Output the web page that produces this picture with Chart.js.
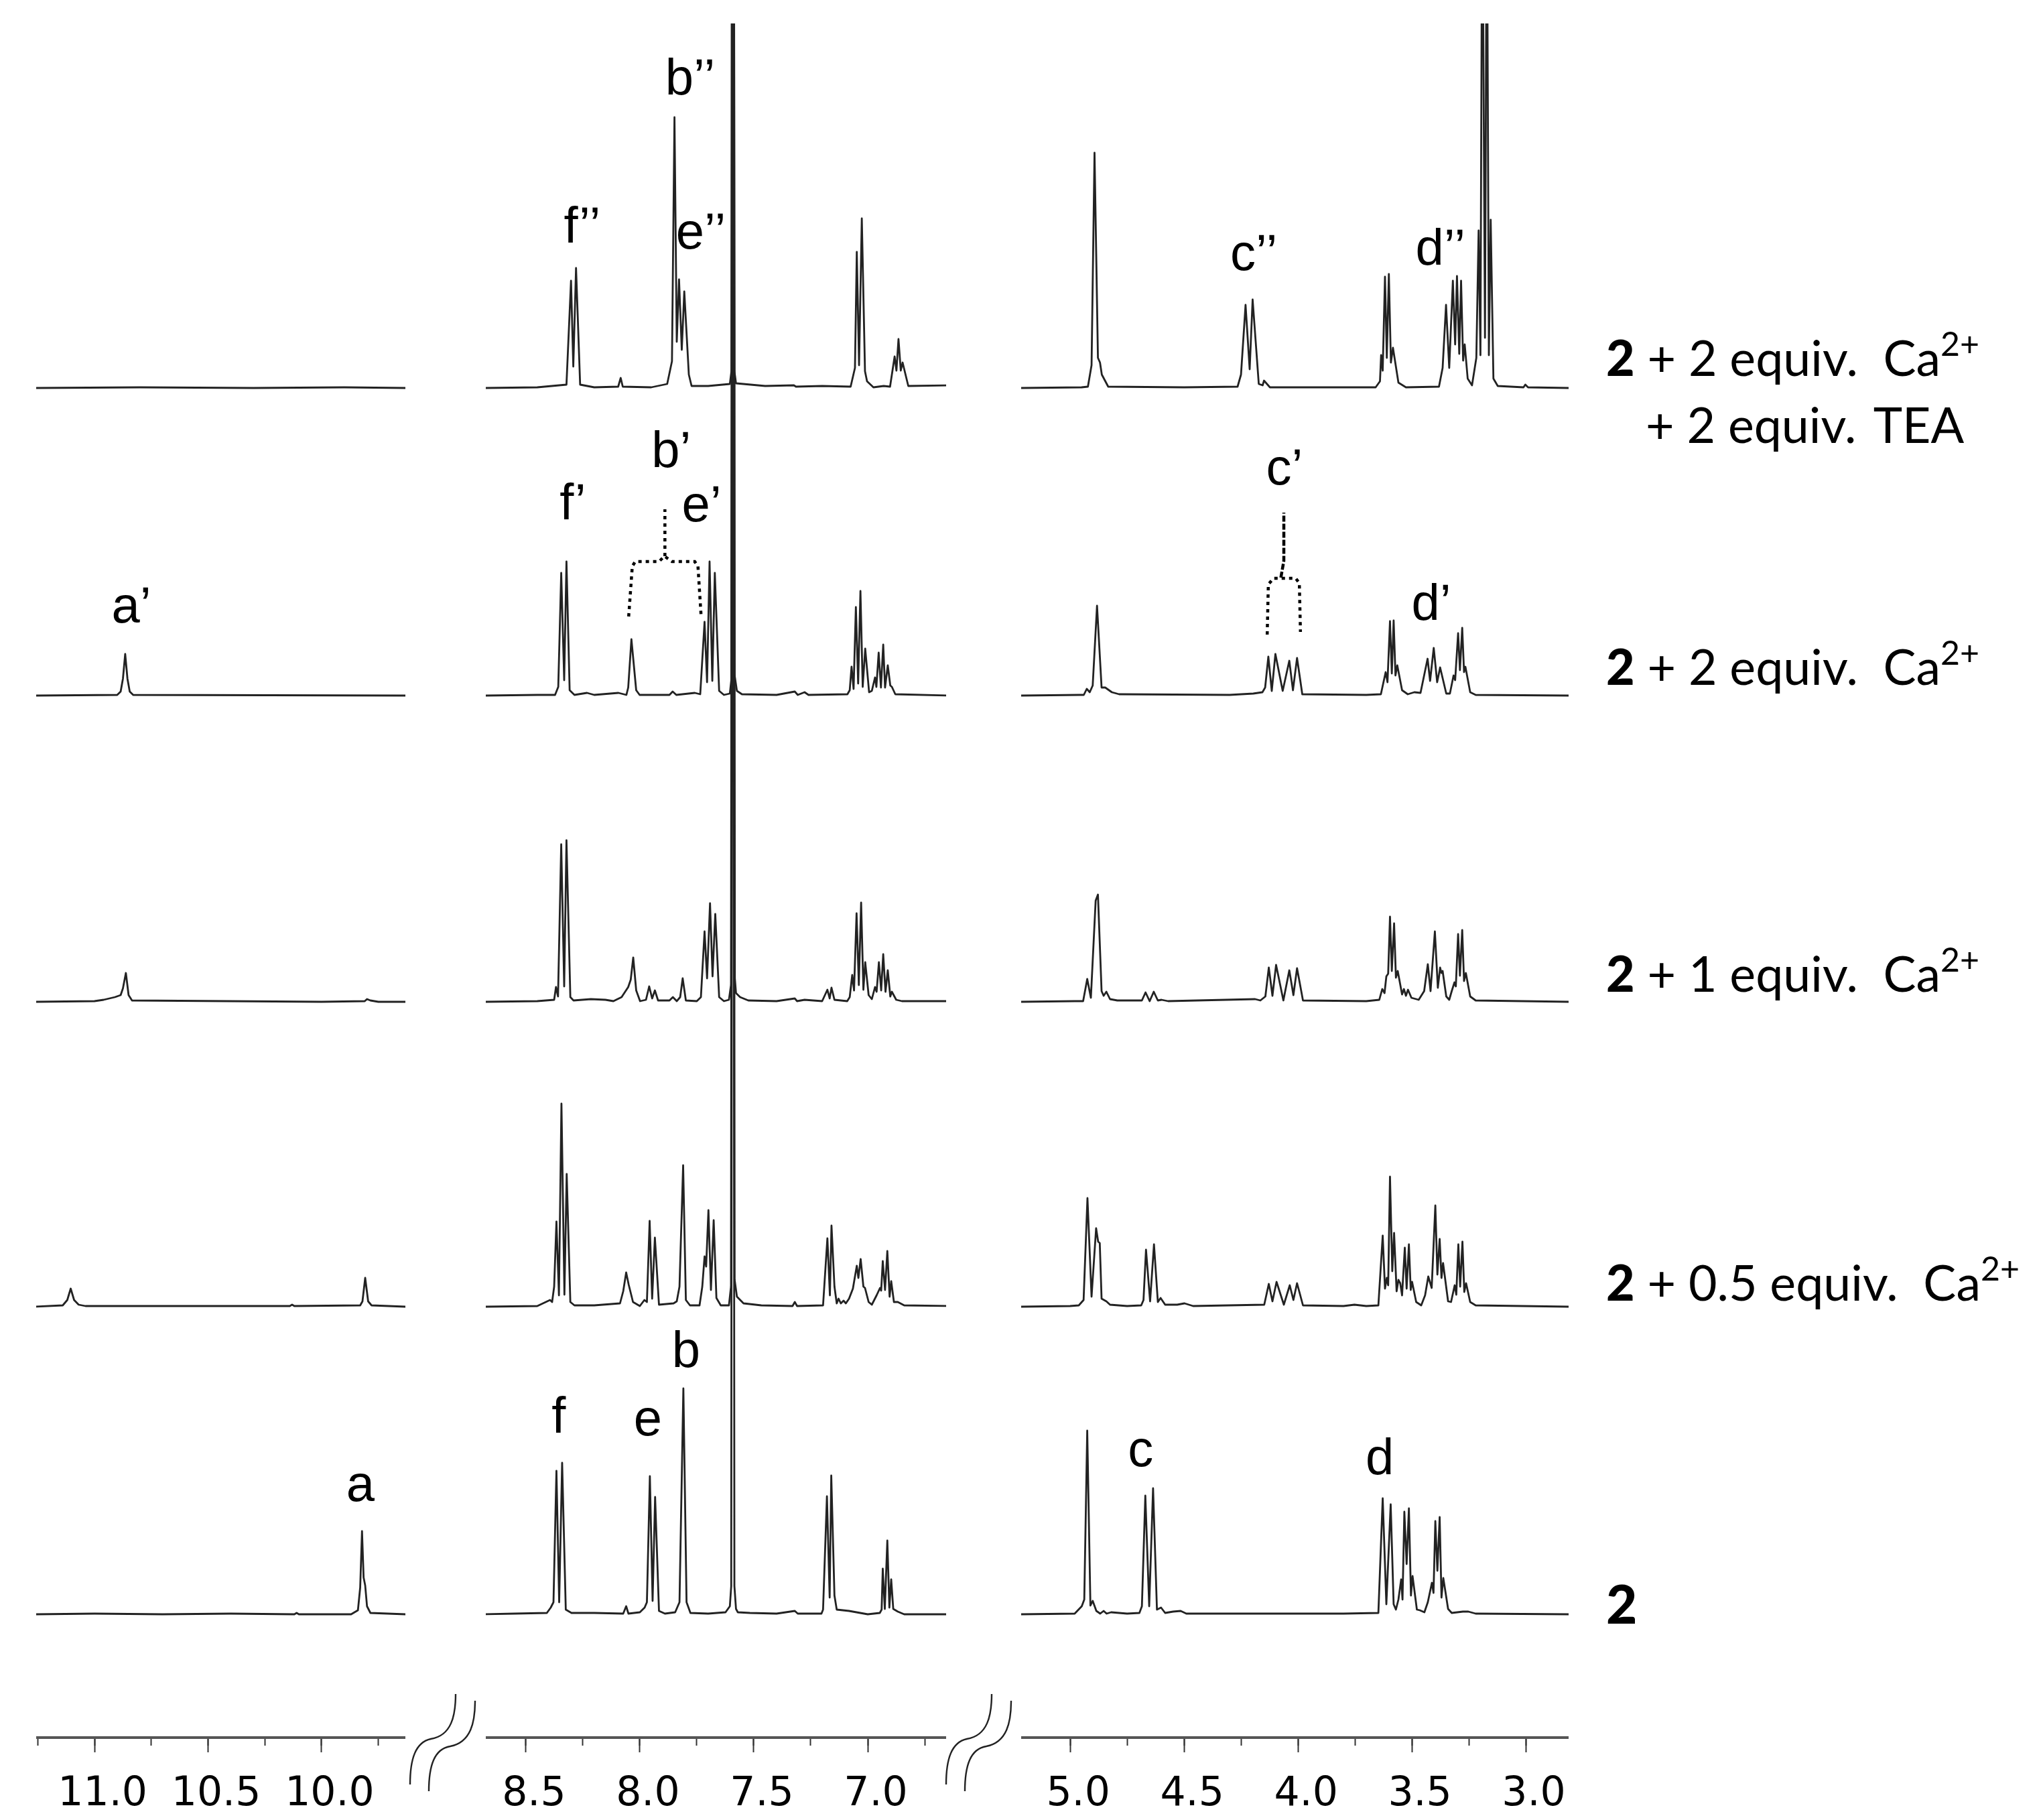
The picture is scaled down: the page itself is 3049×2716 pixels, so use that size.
<!DOCTYPE html>
<html><head><meta charset="utf-8">
<script src="https://cdn.jsdelivr.net/npm/chart.js@4"></script>
<style>
html,body{margin:0;padding:0;background:#fff;width:3049px;height:2716px;overflow:hidden}
canvas{position:absolute;top:0;filter:blur(0.6px)}
svg{position:absolute;left:0;top:0}
.side{font-family:Lato,sans-serif;font-size:73.5px;fill:#000;white-space:pre}
</style></head><body>
<canvas id="p1" width="551" height="2716" style="left:54px"></canvas>
<canvas id="p2" width="687" height="2716" style="left:725px"></canvas>
<canvas id="p3" width="817" height="2716" style="left:1524px"></canvas>
<svg width="3049" height="2716" viewBox="0 0 3049 2716">
<g fill="none" stroke="#222" stroke-width="2.4">
<path d="M680 2528C680 2560 674 2590 643 2595C620 2600 612 2625 612 2663"/>
<path d="M709 2538C709 2570 703 2600 672 2606C648 2610 640 2635 640 2673"/>
<path d="M1480 2528C1480 2560 1474 2590 1443 2595C1420 2600 1412 2625 1412 2663"/>
<path d="M1509 2538C1509 2570 1503 2600 1472 2606C1448 2610 1440 2635 1440 2673"/>
</g>
<text class="side" x="2397" y="561"><tspan font-weight="900">2</tspan> + 2 equiv.  Ca<tspan font-size="50" dy="-30">2+</tspan></text>
<text class="side" x="2456" y="661">+ 2 equiv.  <tspan dx="-10">TEA</tspan></text>
<text class="side" x="2397" y="1022"><tspan font-weight="900">2</tspan> + 2 equiv.  Ca<tspan font-size="50" dy="-30">2+</tspan></text>
<text class="side" x="2397" y="1480"><tspan font-weight="900">2</tspan> + 1 equiv.  Ca<tspan font-size="50" dy="-30">2+</tspan></text>
<text class="side" x="2397" y="1941"><tspan font-weight="900">2</tspan> + 0.5 equiv.  Ca<tspan font-size="50" dy="-30">2+</tspan></text>
<text class="side" x="2397" y="2423" font-weight="900" style="font-size:80px">2</text>
</svg>
<script>
// Vertical position of each spectrum's baseline (bottom to top)
const spectrumBaselines = [184, 643, 1098, 1555, 2014];

// Panel ranges (ppm)
const rangeLow  = [11.257, 9.631];
const rangeMid  = [8.676, 6.656];
const rangeHigh = [5.215, 2.812];

// Downfield panel: [ppm, intensity]
const low0 = [[11.26,0],[11,1],[10.7,0],[10.4,1],[10.12,0],[10.11,2],[10.1,0],[9.87,0],[9.84,6],[9.83,40],[9.822,124],[9.815,55],[9.808,43],[9.80,12],[9.785,2],[9.63,0]];
const low1 = [[11.26,0],[11.14,2],[11.12,10],[11.105,27],[11.09,10],[11.07,3],[11.04,1],[10.5,1],[10.14,1],[10.13,3],[10.12,1],[9.83,2],[9.82,8],[9.808,43],[9.795,8],[9.78,2],[9.63,0]];
const low2 = [[11.26,0],[11.0,1],[10.96,3],[10.91,7],[10.885,10],[10.875,20],[10.862,43],[10.85,10],[10.835,2],[10.0,0],[9.81,1],[9.80,4],[9.785,2],[9.75,0],[9.63,0]];
const low3 = [[11.26,0],[10.9,1],[10.885,6],[10.875,25],[10.865,62],[10.855,25],[10.845,6],[10.83,1],[9.63,0]];
const low4 = [[11.26,0],[10.8,1],[10.3,0],[9.9,1],[9.63,0]];

// Aromatic panel: [ppm, intensity]
const mid0 = [[8.68,0],[8.55,1],[8.408,2],[8.391,10],[8.379,18],[8.366,214],[8.354,18],[8.341,226],[8.325,7],[8.30,2],[8.2,2],[8.073,1],[8.060,12],[8.05,1],[8.0,3],[7.979,10],[7.969,18],[7.956,206],[7.944,20],[7.933,175],[7.916,5],[7.89,1],[7.845,3],[7.826,18],[7.809,337],[7.795,18],[7.778,2],[7.7,1],[7.624,3],[7.605,12],[7.599,42],[7.592,3000],[7.585,42],[7.578,8],[7.570,3],[7.517,2],[7.4,1],[7.320,5],[7.307,1],[7.203,1],[7.196,7],[7.179,176],[7.167,25],[7.160,207],[7.146,28],[7.136,7],[7.082,5],[7.0,0],[6.947,2],[6.939,7],[6.934,68],[6.925,8],[6.914,110],[6.905,10],[6.897,52],[6.888,8],[6.868,4],[6.84,0],[6.65,0]];
const mid1 = [[8.68,0],[8.45,1],[8.394,10],[8.385,7],[8.376,30],[8.366,127],[8.355,17],[8.344,303],[8.331,18],[8.321,198],[8.305,7],[8.287,2],[8.2,2],[8.087,5],[8.073,23],[8.060,51],[8.049,33],[8.030,7],[8.0,1],[7.980,10],[7.969,7],[7.957,128],[7.946,12],[7.934,103],[7.916,3],[7.852,5],[7.838,8],[7.826,30],[7.810,211],[7.798,10],[7.780,2],[7.738,2],[7.726,30],[7.716,75],[7.709,60],[7.699,144],[7.688,25],[7.676,129],[7.664,13],[7.645,2],[7.609,2],[7.600,30],[7.591,3000],[7.584,40],[7.574,15],[7.545,5],[7.467,2],[7.33,1],[7.320,7],[7.31,1],[7.196,2],[7.177,102],[7.166,17],[7.159,121],[7.146,30],[7.136,5],[7.128,12],[7.118,5],[7.106,9],[7.096,5],[7.082,12],[7.065,27],[7.048,61],[7.041,43],[7.031,71],[7.019,30],[7.012,28],[6.996,7],[6.982,3],[6.961,17],[6.946,28],[6.941,24],[6.934,68],[6.924,25],[6.914,83],[6.904,15],[6.897,38],[6.885,7],[6.868,7],[6.84,2],[6.65,1]];
const mid2 = [[8.68,0],[8.45,1],[8.376,3],[8.368,22],[8.359,8],[8.345,235],[8.332,23],[8.322,241],[8.305,7],[8.291,2],[8.215,4],[8.151,3],[8.116,1],[8.080,7],[8.051,22],[8.040,33],[8.029,66],[8.016,17],[7.999,1],[7.973,3],[7.959,23],[7.946,5],[7.934,17],[7.920,2],[7.87,2],[7.855,7],[7.838,1],[7.823,7],[7.812,35],[7.798,2],[7.75,1],[7.732,7],[7.716,105],[7.705,35],[7.692,147],[7.681,38],[7.669,131],[7.652,7],[7.631,1],[7.609,3],[7.600,25],[7.590,3000],[7.583,35],[7.578,13],[7.560,7],[7.524,2],[7.4,1],[7.320,5],[7.31,1],[7.277,3],[7.2,1],[7.177,18],[7.167,5],[7.159,21],[7.146,3],[7.09,1],[7.079,7],[7.068,40],[7.060,17],[7.049,132],[7.039,25],[7.029,148],[7.019,18],[7.011,59],[6.996,10],[6.982,4],[6.968,22],[6.961,15],[6.951,59],[6.941,17],[6.932,71],[6.922,15],[6.912,47],[6.901,8],[6.894,15],[6.875,3],[6.85,1],[6.65,1]];
const mid3 = [[8.68,0],[8.45,1],[8.372,1],[8.358,13],[8.345,183],[8.332,23],[8.322,200],[8.308,8],[8.287,1],[8.232,4],[8.2,1],[8.094,4],[8.059,1],[8.051,12],[8.037,84],[8.016,8],[8.001,1],[7.87,1],[7.856,6],[7.84,1],[7.759,4],[7.735,2],[7.716,110],[7.705,20],[7.694,200],[7.682,22],[7.671,183],[7.652,7],[7.631,1],[7.605,3],[7.598,25],[7.591,3000],[7.584,30],[7.574,7],[7.552,2],[7.4,1],[7.320,6],[7.307,1],[7.277,5],[7.26,1],[7.089,2],[7.079,8],[7.071,43],[7.062,10],[7.052,132],[7.042,18],[7.032,156],[7.022,13],[7.011,70],[6.994,5],[6.982,7],[6.968,27],[6.962,13],[6.952,64],[6.942,12],[6.932,76],[6.924,12],[6.912,45],[6.901,15],[6.894,13],[6.879,2],[6.65,0]];
const mid4 = [[8.68,0],[8.45,1],[8.322,5],[8.302,160],[8.292,32],[8.280,179],[8.262,5],[8.2,1],[8.095,2],[8.084,15],[8.075,2],[7.95,1],[7.880,6],[7.859,40],[7.848,404],[7.838,69],[7.828,162],[7.816,57],[7.805,144],[7.785,20],[7.773,3],[7.7,3],[7.605,6],[7.598,25],[7.592,3000],[7.585,25],[7.578,7],[7.45,3],[7.324,4],[7.315,2],[7.2,3],[7.075,2],[7.056,30],[7.048,203],[7.038,34],[7.026,253],[7.012,25],[7.003,10],[6.975,1],[6.930,3],[6.902,2],[6.882,47],[6.874,26],[6.865,73],[6.855,26],[6.847,38],[6.822,3],[6.65,4]];

// Aliphatic panel: [ppm, intensity]
const high0 = [[5.22,0],[4.98,1],[4.949,12],[4.938,22],[4.925,274],[4.911,13],[4.901,20],[4.885,5],[4.868,1],[4.853,5],[4.84,1],[4.82,3],[4.75,1],[4.696,2],[4.685,12],[4.670,177],[4.653,12],[4.636,188],[4.619,7],[4.601,10],[4.583,2],[4.548,4],[4.515,5],[4.49,1],[3.8,1],[3.647,2],[3.628,173],[3.612,15],[3.593,164],[3.580,15],[3.570,7],[3.559,22],[3.547,52],[3.541,22],[3.533,153],[3.523,75],[3.513,158],[3.504,28],[3.497,57],[3.478,7],[3.465,6],[3.445,3],[3.430,18],[3.412,47],[3.405,32],[3.397,139],[3.388,65],[3.378,145],[3.370,25],[3.362,54],[3.341,8],[3.325,2],[3.276,4],[3.252,4],[3.22,1],[2.81,0]];
const high1 = [[5.22,0],[5.0,1],[4.962,2],[4.941,10],[4.924,162],[4.906,15],[4.886,117],[4.877,97],[4.870,95],[4.862,12],[4.841,8],[4.825,3],[4.75,1],[4.688,2],[4.678,10],[4.667,85],[4.649,8],[4.632,93],[4.615,7],[4.603,13],[4.583,3],[4.530,3],[4.498,5],[4.46,1],[4.148,3],[4.128,34],[4.112,8],[4.094,37],[4.062,3],[4.036,32],[4.020,10],[4.004,35],[3.978,2],[3.8,1],[3.752,3],[3.7,1],[3.647,2],[3.628,106],[3.618,27],[3.610,43],[3.604,32],[3.596,194],[3.586,53],[3.578,110],[3.567,23],[3.559,40],[3.551,35],[3.543,17],[3.531,88],[3.523,27],[3.513,93],[3.505,25],[3.499,37],[3.481,7],[3.459,2],[3.442,17],[3.428,45],[3.413,28],[3.397,151],[3.388,48],[3.378,101],[3.370,43],[3.363,65],[3.341,8],[3.328,7],[3.312,32],[3.305,18],[3.296,93],[3.288,30],[3.278,97],[3.270,22],[3.262,35],[3.244,7],[3.22,2],[2.81,0]];
const high2 = [[5.22,0],[4.98,1],[4.943,1],[4.925,34],[4.909,6],[4.888,151],[4.878,160],[4.862,16],[4.853,9],[4.841,15],[4.825,4],[4.793,2],[4.685,2],[4.669,14],[4.651,1],[4.633,15],[4.615,2],[4.599,3],[4.57,1],[4.188,4],[4.165,2],[4.143,8],[4.128,51],[4.112,9],[4.096,55],[4.064,2],[4.038,47],[4.020,10],[4.004,50],[3.978,2],[3.7,1],[3.643,3],[3.630,19],[3.620,13],[3.612,38],[3.604,42],[3.596,127],[3.588,46],[3.578,117],[3.570,36],[3.562,46],[3.543,11],[3.535,19],[3.526,9],[3.517,18],[3.502,6],[3.470,3],[3.446,16],[3.430,56],[3.418,16],[3.399,105],[3.386,21],[3.376,51],[3.370,43],[3.365,46],[3.349,8],[3.336,3],[3.325,16],[3.313,29],[3.307,23],[3.297,101],[3.289,39],[3.279,107],[3.271,31],[3.263,43],[3.244,8],[3.220,2],[2.81,0]];
const high3 = [[5.22,0],[4.96,1],[4.94,1],[4.927,10],[4.914,5],[4.901,15],[4.882,134],[4.862,12],[4.846,12],[4.817,5],[4.785,2],[4.3,1],[4.196,3],[4.156,5],[4.144,12],[4.130,58],[4.115,7],[4.099,62],[4.067,7],[4.038,52],[4.022,8],[4.004,56],[3.981,2],[3.7,1],[3.636,2],[3.615,35],[3.607,20],[3.596,111],[3.588,33],[3.580,112],[3.572,30],[3.564,45],[3.543,8],[3.518,2],[3.489,5],[3.462,4],[3.431,55],[3.420,22],[3.404,71],[3.389,20],[3.376,42],[3.349,3],[3.333,3],[3.317,30],[3.310,23],[3.297,93],[3.289,38],[3.279,101],[3.271,35],[3.265,43],[3.244,5],[3.220,1],[2.81,0]];
const high4 = [[5.22,0],[4.95,1],[4.922,2],[4.906,34],[4.893,351],[4.878,45],[4.869,38],[4.861,20],[4.833,2],[4.5,1],[4.265,2],[4.250,20],[4.230,124],[4.212,28],[4.199,132],[4.172,6],[4.155,4],[4.149,11],[4.123,1],[3.8,1],[3.659,1],[3.640,10],[3.635,49],[3.628,26],[3.618,166],[3.610,45],[3.601,170],[3.592,38],[3.583,60],[3.559,8],[3.526,1],[3.381,2],[3.365,30],[3.350,124],[3.336,30],[3.320,160],[3.310,65],[3.302,167],[3.292,51],[3.284,160],[3.275,41],[3.268,65],[3.255,14],[3.236,4],[3.217,45],[3.207,235],[3.199,49],[3.191,800],[3.179,75],[3.171,800],[3.162,49],[3.154,251],[3.142,14],[3.123,3],[3.01,1],[3.002,5],[2.99,1],[2.81,0]];

// Dotted brackets: [ppm, height]
const bracketB = [[8.049,1673],[8.033,1748],[8.020,1755],[7.916,1755],[7.892,1763],[7.859,1755],[7.759,1755],[7.745,1748],[7.731,1673]];
const stemB = [[7.890,1763],[7.890,1833]];
const bracketC = [[4.135,1646],[4.130,1721],[4.107,1730],[4.010,1730],[3.994,1723],[3.989,1650]];
const stemC = [[4.075,1731],[4.062,1756],[4.062,1828]];

// Peak labels: [text, ppm, height]
const labelsLow = [['a’',10.838,1664],['a',9.829,353]];
const labelsMid = [['f’’',8.253,2231],['b’’',7.779,2452],['e’’',7.732,2222],['f’',8.294,1818],['b’',7.862,1896],['e’',7.729,1815],['f',8.356,455],['e',7.965,451],['b',7.797,553]];
const labelsHigh = [['c’’',4.194,2190],['d’’',3.374,2198],['c’',4.059,1870],['d’',3.415,1668],['c',4.691,405],['d',3.641,393]];

const yMax = 2558;
const peakLabels = {
  id:'peakLabels',
  afterDatasetsDraw(chart, args, opts){
    const c = chart.ctx, sx = chart.scales.x, sy = chart.scales.y;
    c.save();
    c.fillStyle='#000'; c.font='76px "Liberation Sans"'; c.textAlign='center'; c.textBaseline='alphabetic';
    opts.items.forEach(([t,p,h])=>c.fillText(t, sx.getPixelForValue(p), sy.getPixelForValue(h)));
    c.restore();
  }
};
const toPts = (arr, off=0) => arr.map(([x,y])=>({x, y:y+off}));
function panel(id, range, spectra, extras, labels){
  const ds = spectra.map((s,i)=>({data:toPts(s, spectrumBaselines[i]), borderColor:'#222', borderWidth:2.8, pointRadius:0, showLine:true, tension:0, borderJoinStyle:'round', xAxisID:'x', yAxisID:'y'}));
  extras.forEach(e=>ds.push({data:toPts(e.pts), borderColor:'#000', borderWidth:4.5, borderDash:e.dash, pointRadius:0, showLine:true, tension:0, xAxisID:'x', yAxisID:'y'}));
  new Chart(document.getElementById(id), {
    type:'scatter',
    data:{datasets:ds},
    plugins:[peakLabels],
    options:{
      responsive:false, animation:false, devicePixelRatio:1,
      layout:{padding:{top:35,left:0,right:0,bottom:0}},
      plugins:{legend:{display:false}, tooltip:{enabled:false}, peakLabels:{items:labels}},
      scales:{
        y:{display:false, min:0, max:yMax},
        x:{type:'linear', reverse:true, min:range[1], max:range[0], position:'bottom',
           afterFit(s){s.height=123; s.paddingLeft=0; s.paddingRight=0;},
           grid:{display:true, drawOnChartArea:false, drawTicks:true, tickLength:22, tickWidth:2, tickColor:'#333'},
           border:{display:true, color:'#555', width:4},
           ticks:{stepSize:0.5, includeBounds:false, autoSkip:false, minRotation:0, maxRotation:0, padding:27, labelOffset:12,
                  color:'#000', font:{family:'"DejaVu Sans"', size:60}, callback:v=>v.toFixed(1)}},
        xm:{type:'linear', reverse:true, min:range[1], max:range[0], position:{y:0},
           grid:{display:true, drawOnChartArea:false, drawTicks:true, tickLength:12, tickWidth:2, tickColor:'#333'},
           border:{display:false},
           ticks:{stepSize:0.25, includeBounds:false, autoSkip:false, display:false}}
      }
    }
  });
}
panel('p1', rangeLow, [low0,low1,low2,low3,low4], [], labelsLow);
panel('p2', rangeMid, [mid0,mid1,mid2,mid3,mid4], [{pts:bracketB,dash:[5,6]},{pts:stemB,dash:[5,6]}], labelsMid);
panel('p3', rangeHigh, [high0,high1,high2,high3,high4], [{pts:bracketC,dash:[5,6]},{pts:stemC,dash:[9,3]}], labelsHigh);
</script>
</body></html>
